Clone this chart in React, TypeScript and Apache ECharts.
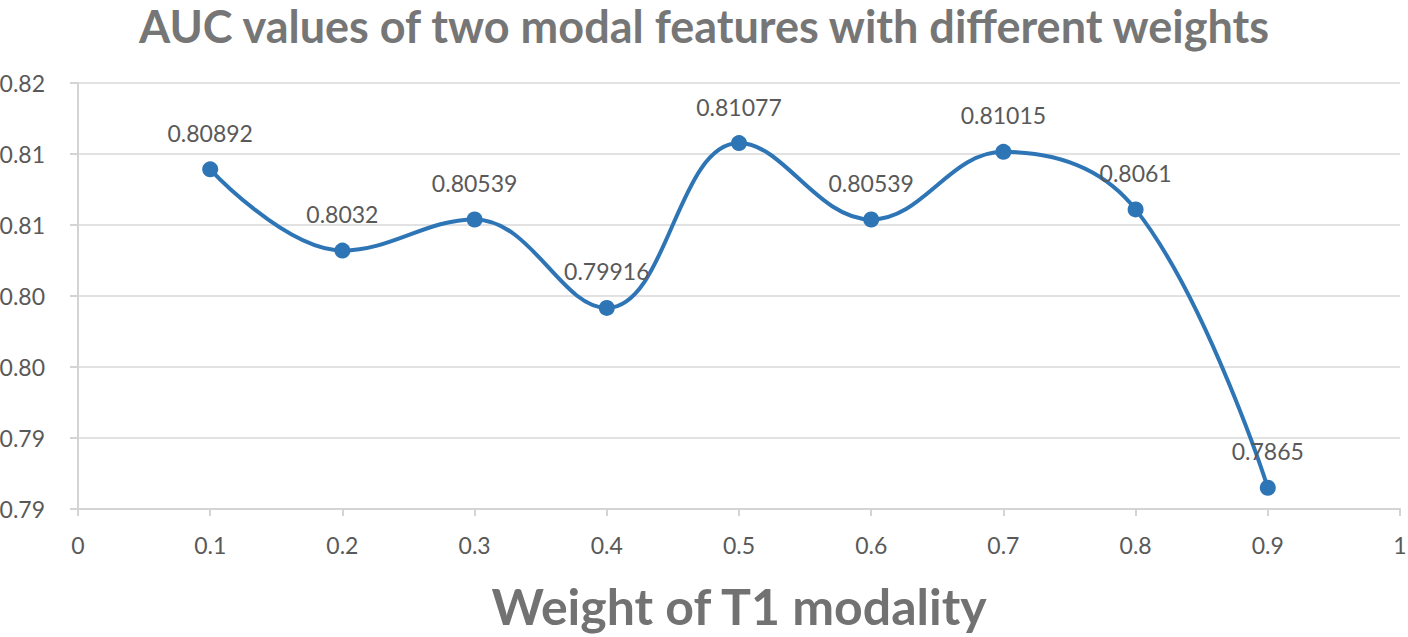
import React, { useEffect, useRef } from "react";
import * as echarts from "echarts";

const weights = [0.1, 0.2, 0.3, 0.4, 0.5, 0.6, 0.7, 0.8, 0.9];
const aucValues = [0.80892, 0.8032, 0.80539, 0.79916, 0.81077, 0.80539, 0.81015, 0.8061, 0.7865];
const yTickLabels = ["0.79", "0.79", "0.80", "0.80", "0.81", "0.81", "0.82"];
const xTickLabels = ["0", "0.1", "0.2", "0.3", "0.4", "0.5", "0.6", "0.7", "0.8", "0.9", "1"];
const titleText = "AUC values of two modal features with different weights";
const xAxisTitle = "Weight of T1 modality";

const Y_MIN = 0.785;
const Y_STEP = 0.005;

export default function App() {
  const ref = useRef<HTMLDivElement>(null);
  useEffect(() => {
    document.body.style.margin = "0";
    if (!ref.current) return;
    const chart = echarts.init(ref.current, undefined, { renderer: "svg" });
    const font = "Lato, 'Open Sans', sans-serif";
    chart.setOption({
      animation: false,
      backgroundColor: "#ffffff",
      title: {
        text: titleText,
        left: "center",
        top: 0,
        textStyle: { fontFamily: font, fontWeight: "bold", fontSize: 45, lineHeight: 42, color: "#767676" },
      },
      grid: { left: 78, right: 8, top: 83, bottom: 128, containLabel: false, outerBoundsMode: "none" },
      xAxis: {
        type: "value",
        min: 0,
        max: 1,
        interval: 0.1,
        name: xAxisTitle,
        nameLocation: "middle",
        nameGap: 72,
        nameTextStyle: { fontFamily: font, fontWeight: "bold", fontSize: 50, color: "#727272" },
        axisLine: { show: true, lineStyle: { color: "#d4d4d4", width: 2 } },
        axisTick: { show: true, length: 7, lineStyle: { color: "#d4d4d4", width: 2 } },
        splitLine: { show: false },
        axisLabel: {
          margin: 24,
          fontFamily: font,
          fontSize: 23,
          color: "#595959",
          formatter: (v: number) => xTickLabels[Math.round(v * 10)] ?? "",
        },
      },
      yAxis: {
        type: "value",
        min: Y_MIN,
        max: 0.815,
        interval: Y_STEP,
        axisLine: { show: true, lineStyle: { color: "#d4d4d4", width: 2 } },
        axisTick: { show: true, length: 8, lineStyle: { color: "#d4d4d4", width: 2 } },
        splitLine: { show: true, lineStyle: { color: "#d9d9d9", width: 1.5 } },
        axisLabel: {
          margin: 33,
          fontFamily: font,
          fontSize: 23,
          color: "#595959",
          formatter: (v: number) => yTickLabels[Math.round((v - Y_MIN) / Y_STEP)] ?? "",
        },
      },
      series: [
        {
          type: "line",
          data: weights.map((w, i) => [w, aucValues[i]]),
          smooth: 0.4,
          symbol: "circle",
          symbolSize: 16,
          lineStyle: { color: "#2e75b6", width: 4 },
          itemStyle: { color: "#2e75b6" },
          label: {
            show: true,
            position: "top",
            distance: 17,
            fontFamily: font,
            fontSize: 23,
            color: "#595959",
            formatter: (p: any) => String(aucValues[p.dataIndex]),
          },
        },
      ],
    });
    return () => chart.dispose();
  }, []);
  return <div ref={ref} style={{ width: 1408, height: 637 }} />;
}
